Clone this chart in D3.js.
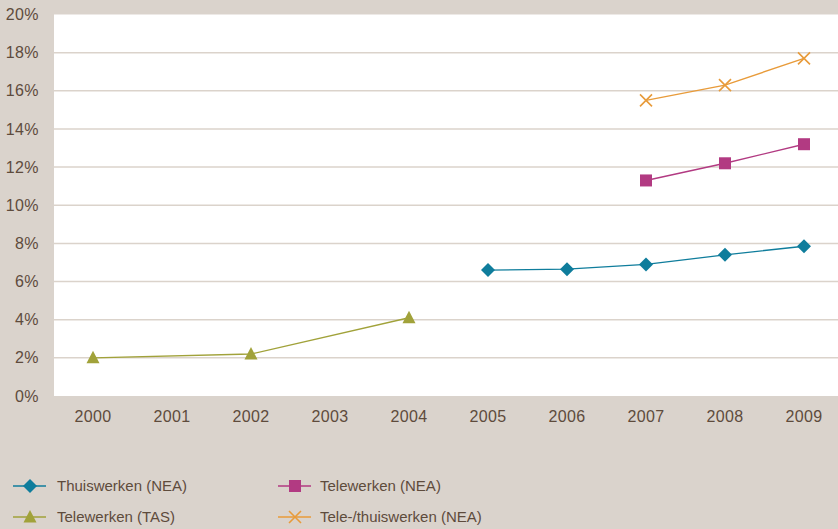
<!DOCTYPE html>
<html>
<head>
<meta charset="utf-8">
<script src="https://cdn.jsdelivr.net/npm/d3@7"></script>
<style>
  body { margin: 0; background: #dad3cc; }
  svg { display: block; font-family: "Liberation Sans", Arial, sans-serif; }
  .tick text { fill: #5e4b3c; font-size: 16px; letter-spacing: 0.4px; }
  .legend text { fill: #5e4b3c; font-size: 15px; }
</style>
</head>
<body>
<svg width="838" height="529"></svg>
<script>
// categories on the x axis
const years = ['2000','2001','2002','2003','2004','2005','2006','2007','2008','2009'];
const yTicks = [0, 2, 4, 6, 8, 10, 12, 14, 16, 18, 20];

// series values (percent)
const thuisNEA = [['2005', 6.6], ['2006', 6.65], ['2007', 6.9], ['2008', 7.4], ['2009', 7.85]];
const teleNEA = [['2007', 11.3], ['2008', 12.2], ['2009', 13.2]];
const teleTAS = [['2000', 2.0], ['2002', 2.2], ['2004', 4.1]];
const teleThuisNEA = [['2007', 15.5], ['2008', 16.3], ['2009', 17.7]];

const series = [
  {name: 'Thuiswerken (NEA)', data: thuisNEA, color: '#0f7d9c', shape: 'diamond'},
  {name: 'Telewerken (NEA)', data: teleNEA, color: '#b23a82', shape: 'square'},
  {name: 'Telewerken (TAS)', data: teleTAS, color: '#a1a23a', shape: 'triangle'},
  {name: 'Tele-/thuiswerken (NEA)', data: teleThuisNEA, color: '#e89b3a', shape: 'cross'}
];

const svg = d3.select('svg');
const margin = {left: 54, right: 0, top: 14.5, bottom: 133};
const width = 838 - margin.left - margin.right;
const height = 529 - margin.top - margin.bottom;

const chart = svg.append('g')
  .attr('transform', `translate(${margin.left}, ${margin.top})`);

chart.append('rect')
  .attr('width', width)
  .attr('height', height)
  .attr('fill', '#ffffff');

// the last band runs a little past the right edge
const xScale = d3.scaleBand()
  .range([-0.5, 789.5])
  .domain(years);

const yScale = d3.scaleLinear()
  .range([height, 0])
  .domain([0, 20]);

// grid lines
chart.append('g')
  .selectAll('line')
  .data(yTicks.slice(1, -1))
  .enter()
  .append('line')
  .attr('x1', 0)
  .attr('x2', width)
  .attr('y1', d => yScale(d))
  .attr('y2', d => yScale(d))
  .attr('stroke', '#dbd3cb')
  .attr('stroke-width', 1.5);

const yAxis = chart.append('g')
  .call(d3.axisLeft(yScale).tickValues(yTicks).tickFormat(d => d + '%').tickSize(0).tickPadding(15));
yAxis.select('.domain').remove();

const xAxis = chart.append('g')
  .attr('transform', `translate(0, ${height})`)
  .call(d3.axisBottom(xScale).tickSize(0).tickPadding(15));
xAxis.select('.domain').remove();

const cx = d => xScale(d[0]) + xScale.bandwidth() / 2;
const line = d3.line().x(cx).y(d => yScale(d[1]));

function marker(g, shape, color) {
  if (shape === 'diamond') {
    g.append('path').attr('d', 'M0,-7L7,0L0,7L-7,0Z').attr('fill', color);
  } else if (shape === 'square') {
    g.append('rect').attr('x', -6).attr('y', -6).attr('width', 12).attr('height', 12).attr('fill', color);
  } else if (shape === 'triangle') {
    g.append('path').attr('d', 'M0,-7L6.5,5.5L-6.5,5.5Z').attr('fill', color);
  } else {
    g.append('path').attr('d', 'M-6,-6L6,6M-6,6L6,-6')
      .attr('stroke', color).attr('stroke-width', 1.6).attr('fill', 'none');
  }
}

series.forEach(s => {
  chart.append('path')
    .datum(s.data)
    .attr('d', line)
    .attr('fill', 'none')
    .attr('stroke', s.color)
    .attr('stroke-width', 1.4);
  chart.selectAll(null)
    .data(s.data)
    .enter()
    .append('g')
    .attr('transform', d => `translate(${cx(d)}, ${yScale(d[1])})`)
    .each(function () { marker(d3.select(this), s.shape, s.color); });
});

// legend
const legendPos = [[13, 486], [278, 486], [13, 517], [278, 517]];
const legend = svg.append('g').attr('class', 'legend');
series.forEach((s, i) => {
  const [lx, ly] = legendPos[i];
  const g = legend.append('g').attr('transform', `translate(${lx}, ${ly})`);
  g.append('line').attr('x1', 0).attr('x2', 33).attr('stroke', s.color).attr('stroke-width', 1.4);
  const m = g.append('g').attr('transform', 'translate(17, 0)');
  marker(m, s.shape, s.color);
  g.append('text').attr('x', i % 2 ? 42 : 44).attr('dy', '0.35em').text(s.name);
});
</script>
</body>
</html>
